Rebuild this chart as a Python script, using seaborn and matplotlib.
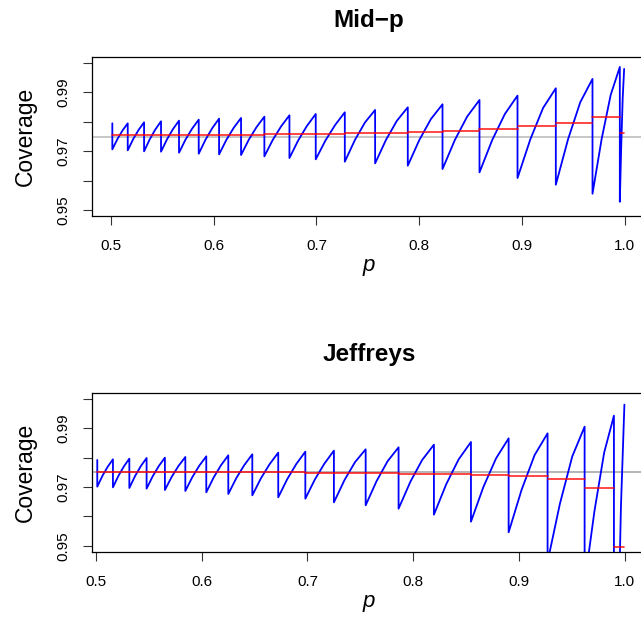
import numpy as np
import pandas as pd
import matplotlib
matplotlib.use("Agg")
import matplotlib.pyplot as plt
import seaborn as sns

# ---------------- data ----------------
# Mid-p panel: jump locations of the coverage sawtooth
midp_jumps = [0.5013, 0.5163, 0.5322, 0.5487, 0.5662, 0.5854, 0.6052, 0.6266,
              0.6493, 0.6737, 0.6993, 0.7276, 0.7571, 0.7889, 0.8227, 0.8587,
              0.8957, 0.9330, 0.9687, 0.9953, 0.9995]
midp_start = 0.97946
midp_low = [0.97065, 0.97032, 0.96998, 0.96986, 0.96952, 0.96918, 0.96896,
            0.96873, 0.96828, 0.96772, 0.96727, 0.96647, 0.96591, 0.96512,
            0.96399, 0.96286, 0.96094, 0.95868, 0.95563, 0.95292]
midp_q1 = [0.97417, 0.97411, 0.97404, 0.97406, 0.97399, 0.97392, 0.97388,
           0.97393, 0.97384, 0.97368, 0.97364, 0.97382, 0.97388, 0.97385,
           0.97381, 0.97377, 0.97400, 0.97407, 0.97408, 0.97222]
midp_q2 = [0.97708, 0.97724, 0.97740, 0.97753, 0.97768, 0.97784, 0.97795,
           0.97821, 0.97842, 0.97860, 0.97889, 0.97978, 0.98033, 0.98091,
           0.98175, 0.98260, 0.98464, 0.98660, 0.98910, 0.98802]
midp_high = [0.97946, 0.97980, 0.98014, 0.98036, 0.98070, 0.98104, 0.98127,
             0.98172, 0.98217, 0.98262, 0.98319, 0.98398, 0.98488, 0.98590,
             0.98736, 0.98883, 0.99132, 0.99448, 0.99854, 0.99787]
midp_mean = [0.9754, 0.9754, 0.9754, 0.9755, 0.9755, 0.9755, 0.9756, 0.9756,
             0.9757, 0.9757, 0.9760, 0.9761, 0.9763, 0.9766, 0.9770, 0.9775,
             0.9784, 0.9797, 0.9815, 0.9763]

# Jeffreys panel
jeff_jumps = [0.5014, 0.5162, 0.5317, 0.5480, 0.5653, 0.5846, 0.6044, 0.6252,
              0.6479, 0.6724, 0.6980, 0.7250, 0.7550, 0.7861, 0.8195, 0.8545,
              0.8901, 0.9269, 0.9619, 0.9896, 0.9995]
jeff_start = 0.97921
jeff_low = [0.97012, 0.96989, 0.96967, 0.96944, 0.96898, 0.96864, 0.96819,
            0.96762, 0.96717, 0.96649, 0.96603, 0.96478, 0.96376, 0.96262,
            0.96058, 0.95819, 0.95456, 0.94450, 0.93700, 0.84000]
jeff_q1 = [0.97385, 0.97380, 0.97376, 0.97366, 0.97348, 0.97337, 0.97323,
           0.97303, 0.97299, 0.97271, 0.97257, 0.97237, 0.97206, 0.97178,
           0.97098, 0.97012, 0.96907, 0.96431, 0.96165, 0.90800]
jeff_q2 = [0.97692, 0.97702, 0.97713, 0.97715, 0.97719, 0.97727, 0.97740,
           0.97749, 0.97778, 0.97785, 0.97797, 0.97851, 0.97879, 0.97920,
           0.97940, 0.97977, 0.98088, 0.98043, 0.98171, 0.96300]
jeff_high = [0.97944, 0.97966, 0.97989, 0.98000, 0.98023, 0.98046, 0.98080,
             0.98114, 0.98171, 0.98205, 0.98239, 0.98285, 0.98353, 0.98443,
             0.98534, 0.98659, 0.98830, 0.99057, 0.99432, 0.99807]
jeff_mean = [0.9751, 0.9751, 0.9751, 0.9751, 0.9751, 0.9750, 0.9750, 0.9750,
             0.9750, 0.9750, 0.9749, 0.9748, 0.9748, 0.9746, 0.9744, 0.9742,
             0.9738, 0.9727, 0.9697, 0.9496]

nominal = 0.975
y_ticks = [0.95, 0.96, 0.97, 0.98, 0.99, 1.00]
y_ticklabels = ["0.95", "", "0.97", "", "0.99", ""]
x_ticks = [0.5, 0.6, 0.7, 0.8, 0.9, 1.0]
x_ticklabels = ["0.5", "0.6", "0.7", "0.8", "0.9", "1.0"]
titles = ["Mid\u2212p", "Jeffreys"]


def sawtooth_frame(jumps, start, low, q1, q2, high):
    xs = [jumps[0]]
    ys = [start]
    for i in range(len(low)):
        a, b = jumps[i], jumps[i + 1]
        d = b - a
        xs += [a, a + d / 3.0, a + 2.0 * d / 3.0, b]
        ys += [low[i], q1[i], q2[i], high[i]]
    return pd.DataFrame({"p": xs, "cov": ys, "order": np.arange(len(xs))})


def mean_frame(jumps, mean):
    xs, ys, seg = [], [], []
    for i, m in enumerate(mean):
        xs += [jumps[i], jumps[i + 1]]
        ys += [m, m]
        seg += [i, i]
    return pd.DataFrame({"p": xs, "cov": ys, "seg": seg})


sns.set_theme(style="ticks")
plt.rcParams["font.family"] = ["Liberation Sans", "DejaVu Sans"]
plt.rcParams["text.color"] = "black"
plt.rcParams["axes.labelcolor"] = "black"
plt.rcParams["xtick.color"] = "black"
plt.rcParams["ytick.color"] = "black"

W, H = 641, 617
fig = plt.figure(figsize=(W / 100, H / 100), dpi=100)

panels = [
    dict(jumps=midp_jumps, start=midp_start, low=midp_low, q1=midp_q1, q2=midp_q2,
         high=midp_high, mean=midp_mean, rect=[92.4 / W, (H - 215.7) / H, 552.8 / W, 158.4 / H],
         xlim=(0.4819, 1.02), ylim=(0.9482, 1.0018), gray="#bdbdbd",
         title_y=20, xlab_y=266, title=titles[0], ylab_y=136.5),
    dict(jumps=jeff_jumps, start=jeff_start, low=jeff_low, q1=jeff_q1, q2=jeff_q2,
         high=jeff_high, mean=jeff_mean, rect=[92.4 / W, (H - 552.3) / H, 553.7 / W, 159.0 / H],
         xlim=(0.49679, 1.02), ylim=(0.94775, 1.00194), gray="#a8a8a8",
         title_y=355, xlab_y=601, title=titles[1], ylab_y=472.8),
]

for pn in panels:
    ax = fig.add_axes(pn["rect"])
    ax.axhline(nominal, color=pn["gray"], lw=1.2, zorder=1)
    saw = sawtooth_frame(pn["jumps"], pn["start"], pn["low"], pn["q1"], pn["q2"], pn["high"])
    sns.lineplot(data=saw, x="p", y="cov", sort=False, estimator=None,
                 color="#0000ff", lw=1.3, ax=ax, zorder=2)
    mf = mean_frame(pn["jumps"], pn["mean"])
    sns.lineplot(data=mf, x="p", y="cov", units="seg", estimator=None,
                 color="#ff0000", lw=1.2, ax=ax, zorder=3, alpha=0.85)
    ax.set_xlim(*pn["xlim"])
    ax.set_ylim(*pn["ylim"])
    ax.set_xticks(x_ticks)
    ax.set_xticklabels(x_ticklabels)
    ax.set_yticks(y_ticks)
    ax.set_yticklabels(y_ticklabels, rotation=90, va="center")
    ax.tick_params(axis="both", which="major", direction="out", length=6.5, width=0.8,
                   color="#333333", labelsize=11, labelcolor="black",
                   bottom=True, left=True, top=False, right=False)
    ax.tick_params(axis="x", pad=10)
    ax.tick_params(axis="y", pad=9)
    ax.set_xlabel("")
    ax.set_ylabel("")
    for s in ax.spines.values():
        s.set_visible(True)
        s.set_color("black")
        s.set_linewidth(0.9)
    ax.grid(False)
    cx = 369 / W
    fig.text(cx, 1 - pn["title_y"] / H, pn["title"], ha="center", va="center",
             fontsize=17.5, fontweight="bold", color="black")
    fig.text(cx, 1 - pn["xlab_y"] / H, "p", ha="center", va="center",
             fontsize=16, style="italic", color="black")
    fig.text(25 / W, 1 - pn["ylab_y"] / H, "Coverage", ha="center", va="center",
             fontsize=16.5, rotation=90, color="black")

fig.savefig("out.png", dpi=100)
